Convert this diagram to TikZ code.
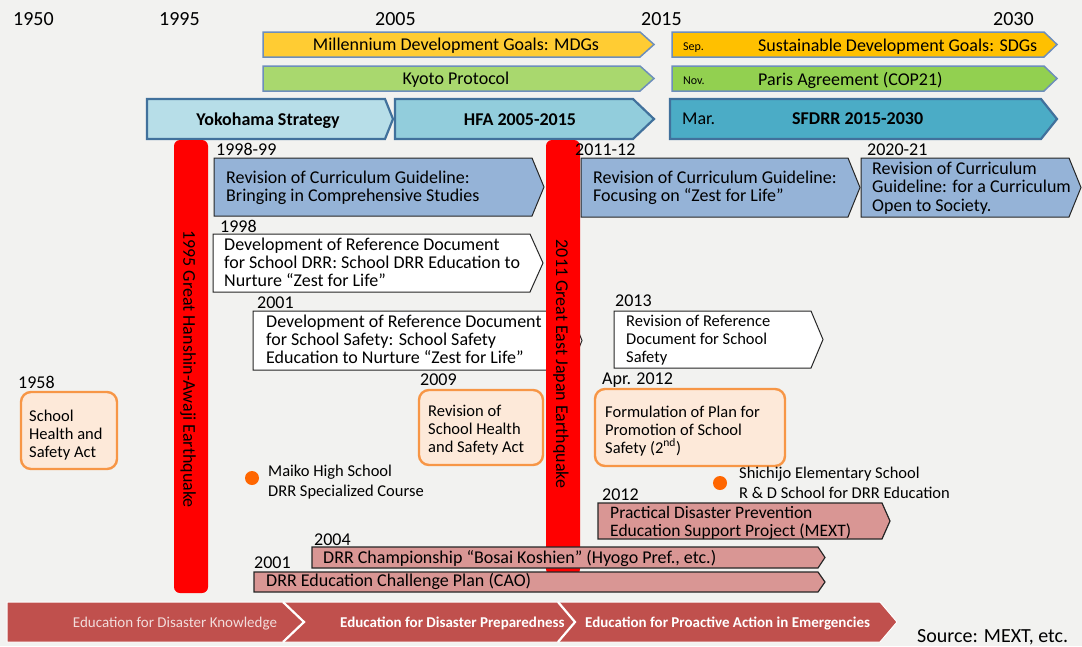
\documentclass[tikz,border=0pt]{standalone}
\usepackage{fontspec}
\setmainfont{Carlito}
\definecolor{bgc}{HTML}{F2F2F0}
\definecolor{mdg}{HTML}{FFCC33}
\definecolor{sdg}{HTML}{FFC000}
\definecolor{kyoto}{HTML}{A9D86E}
\definecolor{paris}{HTML}{92D050}
\definecolor{goalline}{HTML}{6D8EBB}
\definecolor{yoko}{HTML}{B7DEE8}
\definecolor{hfa}{HTML}{92CDDC}
\definecolor{sfdrr}{HTML}{4BACC6}
\definecolor{frameline}{HTML}{41719C}
\definecolor{quake}{HTML}{FF0000}
\definecolor{curr}{HTML}{95B3D7}
\definecolor{edge}{HTML}{262626}
\definecolor{actfill}{HTML}{FDE9D9}
\definecolor{actline}{HTML}{F79646}
\definecolor{dotc}{HTML}{FF6600}
\definecolor{projc}{HTML}{D99694}
\definecolor{bandc}{HTML}{C0504D}
\definecolor{pale}{HTML}{F2DCDB}

% pentagon arrow: style, left x, top y, body end x, tip x, bottom y
\newcommand\chevshape[6]{%
  \pgfmathsetmacro\chevmid{(#3+#6)/2}%
  \draw[#1] (#2,#3) -- (#4,#3) -- (#5,\chevmid) -- (#4,#6) -- (#2,#6) -- cycle;}

\begin{document}
\begin{tikzpicture}[x=1pt,y=-1pt,
  goalbar/.style={draw=goalline, line width=1.5pt, line join=miter},
  framebar/.style={draw=frameline, line width=2.2pt, line join=miter},
  currbox/.style={draw=edge, line width=1pt, fill=curr},
  docbox/.style={draw=edge, line width=1pt, fill=white},
  projbox/.style={draw=edge, line width=1.2pt, fill=projc},
  actbox/.style={draw=actline, line width=2.4pt, fill=actfill, rounded corners=10pt},
  quakebar/.style={fill=quake, rounded corners=6pt},
  yr/.style={font=\fontsize{20}{20}\selectfont, inner sep=0, anchor=base west},
  lbl/.style={font=\fontsize{18}{18}\selectfont, inner sep=0, anchor=base west},
  bartxt/.style={font=\fontsize{18}{18}\selectfont, inner sep=0},
  boldtxt/.style={font=\fontsize{18}{18}\bfseries\selectfont, inner sep=0},
  smalltxt/.style={font=\fontsize{12}{12}\selectfont, inner sep=0, anchor=base west},
  % multi-line texts are placed by the baseline of their last line
  body/.style={font=\fontsize{18}{18}\selectfont, inner sep=0, anchor=base west, align=left},
  bodys/.style={font=\fontsize{16.5}{18}\selectfont, inner sep=0, anchor=base west, align=left},
  bandtxt/.style={font=\fontsize{15}{15}\selectfont, inner sep=0}]

\useasboundingbox (0,0) rectangle (1082,646);
\fill[bgc] (0,0) rectangle (1082,646);

% year scale
\node[yr] (t1950) at (13,25) {1950};
\node[yr] (t1995) at (159,25) {1995};
\node[yr] (t2005) at (375,25) {2005};
\node[yr] (t2015) at (641,25) {2015};
\node[yr] (t2030) at (993,25) {2030};

% international frameworks
\chevshape{goalbar, fill=mdg}{263}{32}{640}{654}{57}
\chevshape{goalbar, fill=sdg}{672}{32}{1044}{1057}{57}
\chevshape{goalbar, fill=kyoto}{263}{66}{640}{654}{91}
\chevshape{goalbar, fill=paris}{672}{66}{1044}{1057}{91}
\chevshape{framebar, fill=yoko}{147}{99}{385}{393}{139}
\chevshape{framebar, fill=hfa}{395}{99}{633}{654}{139}
\chevshape{framebar, fill=sfdrr}{670}{99}{1041}{1057}{139}

\node[bartxt, anchor=base] (mdgtxt) at (456,50) {Millennium Development Goals: MDGs};
\node[smalltxt] (sep) at (683,50) {Sep.};
\node[bartxt, anchor=base west] (sdgtxt) at (758,51) {Sustainable Development Goals: SDGs};
\node[bartxt, anchor=base] (kyototxt) at (456,84) {Kyoto Protocol};
\node[smalltxt] (nov) at (683,84) {Nov.};
\node[bartxt, anchor=base west] (paristxt) at (758,85) {Paris Agreement (COP21)};
\node[boldtxt, anchor=base] (yokotxt) at (268,125) {Yokohama Strategy};
\node[boldtxt, anchor=base] (hfatxt) at (520,125) {HFA 2005-2015};
\node[bartxt, anchor=base west] (mar) at (682,124) {Mar.};
\node[boldtxt, anchor=base west] (sfdrrtxt) at (792,124) {SFDRR 2015-2030};

% school safety document of 2001 lies behind the 2011 bar
\chevshape{docbox}{253}{311}{570}{582}{370}

% earthquakes
\fill[quakebar] (174,140) rectangle (208,593);
\fill[quakebar] (546,140) rectangle (580,575);
\node[bartxt, rotate=-90] (q1995) at (188,369) {1995 Great Hanshin-Awaji Earthquake};
\node[bartxt, rotate=-90] (q2011) at (561,364) {2011 Great East Japan Earthquake};

% curriculum guidelines
\node[lbl] (c1998) at (216,155) {1998-99};
\chevshape{currbox}{214}{158}{532}{544}{216}
\node[body] (ctxt1) at (226,201) {Revision of Curriculum Guideline:\\Bringing in Comprehensive Studies};
\node[lbl] (c2011) at (575,155) {2011-12};
\chevshape{currbox}{581}{158}{848}{860}{217}
\node[body] (ctxt2) at (593,201) {Revision of Curriculum Guideline:\\Focusing on “Zest for Life”};
\node[lbl] (c2020) at (867,155) {2020-21};
\chevshape{currbox}{861}{158}{1069}{1081}{217}
\node[body, font=\fontsize{18}{18.5}\selectfont] (ctxt3) at (872,211) {Revision of Curriculum\\Guideline: for a Curriculum\\Open to Society.};

% reference documents
\node[lbl] (d1998) at (220,232) {1998};
\chevshape{docbox}{213}{234}{530}{543}{292}
\node[body] (dtxt1) at (224,286) {Development of Reference Document\\for School DRR: School DRR Education to\\Nurture “Zest for Life”};
\node[lbl] (d2001) at (257,308) {2001};
\node[body] (dtxt2) at (266,363) {Development of Reference Document\\for School Safety: School Safety\\Education to Nurture “Zest for Life”};
\node[lbl] (d2013) at (615,306) {2013};
\chevshape{docbox}{614}{311}{811}{823}{368}
\node[bodys] (dtxt3) at (626,362) {Revision of Reference\\Document for School\\Safety};

% laws and plans
\node[lbl] (a1958) at (18,388) {1958};
\draw[actbox] (21,392) rectangle (117,469);
\node[bodys] (atxt1) at (29,457) {School\\Health and\\Safety Act};
\node[lbl] (a2009) at (420,385) {2009};
\draw[actbox] (419,390) rectangle (543,465);
\node[bodys] (atxt2) at (428,452) {Revision of\\School Health\\and Safety Act};
\node[lbl] (a2012) at (602,384) {Apr. 2012};
\draw[actbox] (595,389) rectangle (785,466);
\node[bodys] (atxt3) at (605,453) {Formulation of Plan for\\Promotion of School\\Safety (2\textsuperscript{nd})};

% model schools
\fill[dotc] (252,478) circle[radius=7pt];
\node[bodys, font=\fontsize{16.5}{20}\selectfont] (maiko) at (268,496) {Maiko High School\\DRR Specialized Course};
\fill[dotc] (720,483) circle[radius=7pt];
\node[bodys, font=\fontsize{16.5}{20}\selectfont] (shichijo) at (739,498) {Shichijo Elementary School\\R \& D School for DRR Education};

% projects
\node[lbl] (p2012) at (602,500) {2012};
\chevshape{projbox}{598}{503}{882}{890}{539}
\node[body, font=\fontsize{17.5}{18}\selectfont] (ptxt1) at (610,536) {Practical Disaster Prevention\\Education Support Project (MEXT)};
\node[lbl] (p2004) at (314,545) {2004};
\chevshape{projbox}{312}{547}{818}{825}{568}
\node[body] (ptxt2) at (323,563) {DRR Championship “Bosai Koshien” (Hyogo Pref., etc.)};
\node[lbl] (p2001) at (254,568) {2001};
\chevshape{projbox}{254}{572}{818}{825}{592}
\node[body] (ptxt3) at (266,586) {DRR Education Challenge Plan (CAO)};

% stages of disaster education
\draw[fill=bandc, draw=white, line width=1pt] (7,602) -- (880,602) -- (897,622) -- (880,642) -- (7,642) -- cycle;
\draw[white, line width=2.2pt] (283,602) -- (304,622) -- (283,642);
\draw[white, line width=2.2pt] (558,602) -- (575,622) -- (558,642);
\node[bandtxt, text=pale, anchor=base] (s1) at (175,627) {Education for Disaster Knowledge};
\node[bandtxt, text=white, font=\fontsize{15}{15}\bfseries\selectfont, anchor=base west] (s2) at (340,627) {Education for Disaster Preparedness};
\node[bandtxt, text=white, font=\fontsize{15}{15}\bfseries\selectfont, anchor=base west] (s3) at (585,627) {Education for Proactive Action in Emergencies};

\node[font=\fontsize{20}{20}\selectfont, inner sep=0, anchor=base west] (src) at (917,642) {Source: MEXT, etc.};
\end{tikzpicture}
\end{document}
